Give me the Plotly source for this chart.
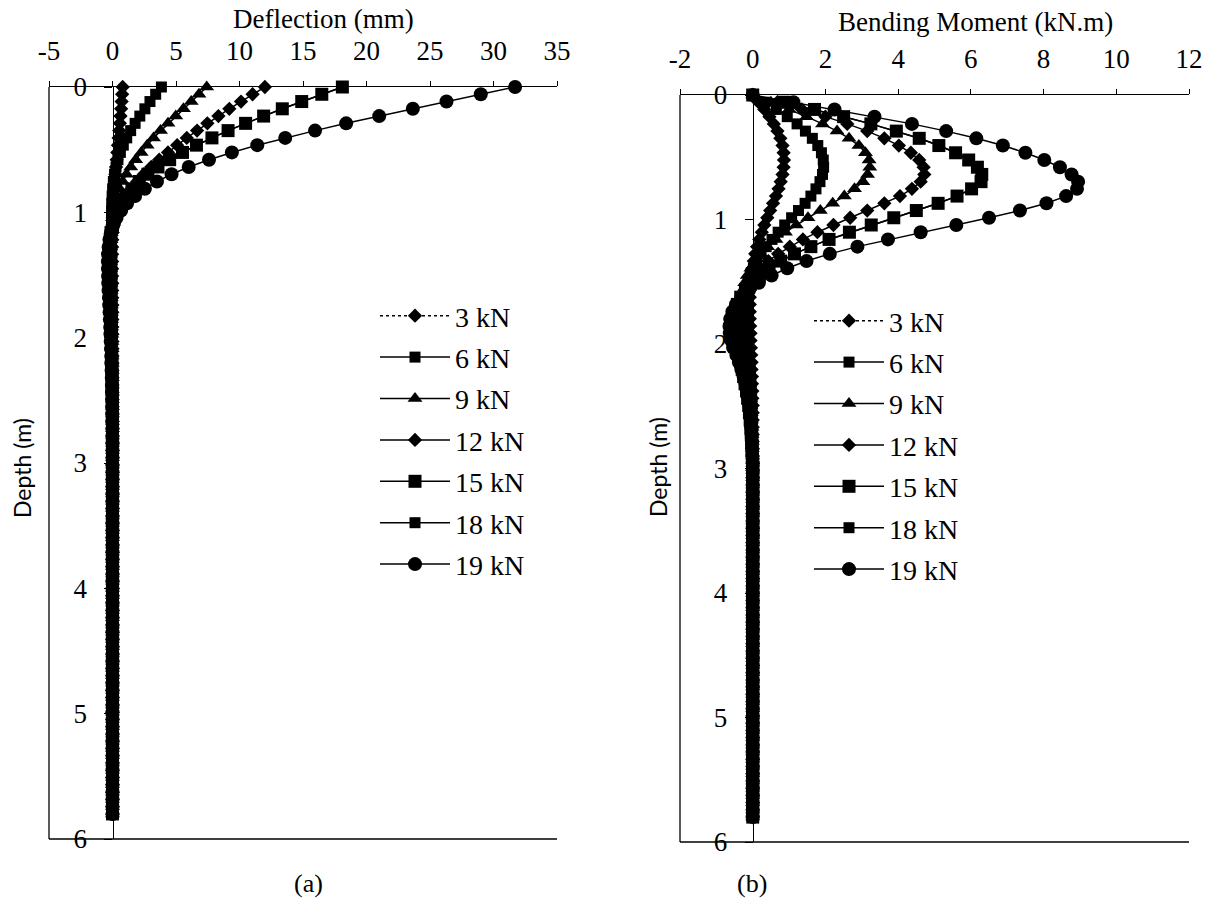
import plotly.graph_objects as go

# ---------------- data ----------------
LOADS = ["3 kN", "6 kN", "9 kN", "12 kN", "15 kN", "18 kN", "19 kN"]

# depth of the pile nodes (m)
DEPTH = [
    0.000, 0.058, 0.116, 0.174, 0.232, 0.290, 0.348, 0.406, 0.464, 0.522,
    0.580, 0.638, 0.696, 0.754, 0.812, 0.870, 0.928, 0.986, 1.044, 1.102,
    1.160, 1.218, 1.276, 1.334, 1.392, 1.450, 1.508, 1.566, 1.624, 1.682,
    1.740, 1.798, 1.856, 1.914, 1.972, 2.030, 2.088, 2.146, 2.204, 2.262,
    2.320, 2.378, 2.436, 2.494, 2.552, 2.610, 2.668, 2.726, 2.784, 2.842,
    2.900, 2.958, 3.016, 3.074, 3.132, 3.190, 3.248, 3.306, 3.364, 3.422,
    3.480, 3.538, 3.596, 3.654, 3.712, 3.770, 3.828, 3.886, 3.944, 4.002,
    4.060, 4.118, 4.176, 4.234, 4.292, 4.350, 4.408, 4.466, 4.524, 4.582,
    4.640, 4.698, 4.756, 4.814, 4.872, 4.930, 4.988, 5.046, 5.104, 5.162,
    5.220, 5.278, 5.336, 5.394, 5.452, 5.510, 5.568, 5.626, 5.684, 5.742,
    5.800,
]

# below ~2.9 m every series reads as zero (nodes 51..100)
DEEP_ZEROS = [
    0, 0, 0, 0, 0, 0, 0, 0, 0, 0,
    0, 0, 0, 0, 0, 0, 0, 0, 0, 0,
    0, 0, 0, 0, 0, 0, 0, 0, 0, 0,
    0, 0, 0, 0, 0, 0, 0, 0, 0, 0,
    0, 0, 0, 0, 0, 0, 0, 0, 0, 0,
]

# deflection (mm), nodes 0..50
DEF_3 = [
    0.80, 0.76, 0.72, 0.68, 0.63, 0.58, 0.53, 0.48, 0.43, 0.38,
    0.33, 0.28, 0.23, 0.18, 0.14, 0.10, 0.07, 0.04, 0.02, 0.00,
    -0.01, -0.02, -0.03, -0.03, -0.03, -0.03, -0.03, -0.02, -0.02, -0.02,
    -0.01, -0.01, -0.01, -0.01, 0, 0, 0, 0, 0, 0,
    0, 0, 0, 0, 0, 0, 0, 0, 0, 0,
    0,
]
DEF_6 = [
    3.85, 3.40, 2.95, 2.55, 2.15, 1.78, 1.43, 1.12, 0.85, 0.62,
    0.43, 0.28, 0.16, 0.07, 0.01, -0.03, -0.06, -0.07, -0.08, -0.08,
    -0.08, -0.08, -0.07, -0.07, -0.06, -0.06, -0.05, -0.05, -0.04, -0.04,
    -0.03, -0.03, -0.02, -0.02, -0.01, -0.01, -0.01, 0, 0, 0,
    0, 0, 0, 0, 0, 0, 0, 0, 0, 0,
    0,
]
DEF_9 = [
    7.42, 6.81, 6.20, 5.59, 4.98, 4.37, 3.78, 3.23, 2.73, 2.26,
    1.83, 1.44, 1.10, 0.80, 0.56, 0.36, 0.20, 0.08, 0.00, -0.06,
    -0.10, -0.12, -0.13, -0.14, -0.14, -0.14, -0.13, -0.12, -0.11, -0.10,
    -0.09, -0.08, -0.07, -0.06, -0.05, -0.04, -0.03, -0.03, -0.02, -0.02,
    -0.01, -0.01, 0, 0, 0, 0, 0, 0, 0, 0,
    0,
]
DEF_12 = [
    12.00, 11.03, 10.12, 9.20, 8.34, 7.47, 6.66, 5.85, 5.09, 4.37,
    3.68, 3.05, 2.47, 1.95, 1.50, 1.10, 0.76, 0.49, 0.27, 0.11,
    0.00, -0.08, -0.13, -0.16, -0.18, -0.19, -0.19, -0.18, -0.17, -0.16,
    -0.15, -0.13, -0.12, -0.10, -0.09, -0.08, -0.07, -0.06, -0.05, -0.04,
    -0.03, -0.03, -0.02, -0.02, -0.01, -0.01, 0, 0, 0, 0,
    0,
]
DEF_15 = [
    18.10, 16.48, 14.90, 13.37, 11.90, 10.48, 9.10, 7.83, 6.61, 5.51,
    4.50, 3.58, 2.79, 2.11, 1.53, 1.05, 0.67, 0.38, 0.15, 0.00,
    -0.11, -0.18, -0.22, -0.24, -0.25, -0.25, -0.24, -0.23, -0.21, -0.19,
    -0.17, -0.15, -0.13, -0.11, -0.10, -0.08, -0.07, -0.06, -0.05, -0.04,
    -0.03, -0.03, -0.02, -0.02, -0.01, -0.01, 0, 0, 0, 0,
    0,
]
DEF_18 = [
    18.10, 16.48, 14.90, 13.37, 11.90, 10.48, 9.10, 7.83, 6.61, 5.51,
    4.50, 3.58, 2.79, 2.11, 1.53, 1.05, 0.67, 0.38, 0.15, 0.00,
    -0.11, -0.18, -0.22, -0.24, -0.25, -0.25, -0.24, -0.23, -0.21, -0.19,
    -0.17, -0.15, -0.13, -0.11, -0.10, -0.08, -0.07, -0.06, -0.05, -0.04,
    -0.03, -0.03, -0.02, -0.02, -0.01, -0.01, 0, 0, 0, 0,
    0,
]
DEF_19 = [
    31.70, 29.00, 26.30, 23.65, 21.00, 18.40, 15.95, 13.60, 11.40, 9.40,
    7.60, 6.00, 4.65, 3.50, 2.55, 1.78, 1.15, 0.68, 0.32, 0.06,
    -0.12, -0.24, -0.31, -0.35, -0.36, -0.36, -0.35, -0.33, -0.31, -0.28,
    -0.26, -0.23, -0.21, -0.18, -0.16, -0.14, -0.12, -0.10, -0.09, -0.07,
    -0.06, -0.05, -0.04, -0.03, -0.03, -0.02, -0.02, -0.01, -0.01, 0,
    0,
]

# bending moment (kN.m), nodes 0..50
MOM_3 = [
    0.00, 0.16, 0.32, 0.46, 0.58, 0.68, 0.76, 0.82, 0.85, 0.86,
    0.85, 0.82, 0.77, 0.71, 0.64, 0.56, 0.48, 0.40, 0.32, 0.25,
    0.18, 0.12, 0.07, 0.03, -0.01, -0.04, -0.06, -0.07, -0.08, -0.08,
    -0.08, -0.08, -0.07, -0.06, -0.06, -0.05, -0.04, -0.03, -0.03, -0.02,
    -0.02, -0.01, -0.01, 0, 0, 0, 0, 0, 0, 0,
    0,
]
MOM_6 = [
    0.00, 0.33, 0.65, 0.95, 1.22, 1.45, 1.64, 1.79, 1.89, 1.94,
    1.95, 1.92, 1.85, 1.74, 1.60, 1.44, 1.26, 1.07, 0.88, 0.70,
    0.53, 0.37, 0.23, 0.11, 0.02, -0.06, -0.12, -0.16, -0.18, -0.19,
    -0.19, -0.18, -0.17, -0.15, -0.14, -0.12, -0.10, -0.09, -0.07, -0.06,
    -0.05, -0.04, -0.03, -0.02, -0.02, -0.01, -0.01, 0, 0, 0,
    0,
]
MOM_9 = [
    0.00, 0.50, 1.00, 1.48, 1.92, 2.32, 2.65, 2.92, 3.10, 3.20,
    3.22, 3.16, 3.03, 2.80, 2.52, 2.20, 1.86, 1.52, 1.20, 0.90,
    0.64, 0.41, 0.22, 0.07, -0.05, -0.15, -0.22, -0.27, -0.30, -0.31,
    -0.31, -0.30, -0.29, -0.27, -0.25, -0.22, -0.19, -0.16, -0.14, -0.12,
    -0.10, -0.08, -0.06, -0.05, -0.04, -0.03, -0.02, -0.02, -0.01, -0.01,
    0,
]
MOM_12 = [
    0.00, 0.68, 1.35, 2.00, 2.60, 3.15, 3.62, 4.02, 4.35, 4.58,
    4.70, 4.72, 4.62, 4.38, 4.05, 3.62, 3.15, 2.68, 2.22, 1.78,
    1.38, 1.02, 0.70, 0.43, 0.21, 0.03, -0.11, -0.22, -0.30, -0.36,
    -0.39, -0.40, -0.39, -0.37, -0.34, -0.31, -0.27, -0.24, -0.20, -0.17,
    -0.14, -0.12, -0.10, -0.08, -0.06, -0.05, -0.04, -0.03, -0.02, -0.02,
    -0.01,
]
MOM_15 = [
    0.00, 0.85, 1.70, 2.50, 3.25, 3.95, 4.58, 5.12, 5.58, 5.94,
    6.18, 6.30, 6.28, 6.02, 5.62, 5.10, 4.50, 3.88, 3.26, 2.66,
    2.10, 1.60, 1.15, 0.77, 0.45, 0.18, -0.04, -0.20, -0.33, -0.42,
    -0.48, -0.51, -0.51, -0.49, -0.46, -0.42, -0.38, -0.33, -0.29, -0.25,
    -0.21, -0.17, -0.14, -0.11, -0.09, -0.07, -0.05, -0.04, -0.03, -0.02,
    -0.01,
]
MOM_18 = [
    0.00, 0.85, 1.70, 2.50, 3.25, 3.95, 4.58, 5.12, 5.58, 5.94,
    6.18, 6.30, 6.28, 6.02, 5.62, 5.10, 4.50, 3.88, 3.26, 2.66,
    2.10, 1.60, 1.15, 0.77, 0.45, 0.18, -0.04, -0.20, -0.33, -0.42,
    -0.48, -0.51, -0.51, -0.49, -0.46, -0.42, -0.38, -0.33, -0.29, -0.25,
    -0.21, -0.17, -0.14, -0.11, -0.09, -0.07, -0.05, -0.04, -0.03, -0.02,
    -0.01,
]
MOM_19 = [
    0.00, 1.12, 2.25, 3.35, 4.38, 5.32, 6.15, 6.88, 7.50, 8.02,
    8.45, 8.77, 8.95, 8.92, 8.62, 8.08, 7.35, 6.50, 5.60, 4.62,
    3.72, 2.88, 2.12, 1.48, 0.95, 0.52, 0.17, -0.10, -0.31, -0.46,
    -0.56, -0.62, -0.64, -0.63, -0.59, -0.54, -0.45, -0.38, -0.31, -0.25,
    -0.20, -0.15, -0.12, -0.09, -0.07, -0.05, -0.04, -0.03, -0.02, -0.01,
    -0.01,
]

DEFLECTION = [DEF_3, DEF_6, DEF_9, DEF_12, DEF_15, DEF_18, DEF_19]
MOMENT = [MOM_3, MOM_6, MOM_9, MOM_12, MOM_15, MOM_18, MOM_19]

DEF_TICKS = [-5, 0, 5, 10, 15, 20, 25, 30, 35]
DEF_TICKTEXT = ["-5", "0", "5", "10", "15", "20", "25", "30", "35"]
MOM_TICKS = [-2, 0, 2, 4, 6, 8, 10, 12]
MOM_TICKTEXT = ["-2", "0", "2", "4", "6", "8", "10", "12"]
DEPTH_TICKS = [0, 1, 2, 3, 4, 5, 6]

# ---------------- styles ----------------
SYMBOLS = ["diamond", "square", "triangle-up", "diamond", "square", "square", "circle"]
SIZES = [11, 11, 13, 11, 13, 11, 14]
DASHES = ["dot", "solid", "solid", "solid", "solid", "solid", "solid"]

SERIF = "Liberation Serif, Times New Roman, serif"
SANS = "Lato, Noto Sans, sans-serif"

W, H = 1208, 907

# plot-area boxes in pixels
L_BOX = dict(x0=49, x1=557, y0=87, y1=839)
R_BOX = dict(x0=680, x1=1189, y0=95, y1=842)


def fx(v):
    return v / W


def fy(v):
    return 1 - v / H


def dom_x(b):
    return [fx(b["x0"]), fx(b["x1"])]


def dom_y(b):
    return [fy(b["y1"]), fy(b["y0"])]


def zero_pos(dom, rng):
    return dom[0] + (0 - rng[0]) / (rng[1] - rng[0]) * (dom[1] - dom[0])


fig = go.Figure()

for k, name in enumerate(LOADS):
    fig.add_trace(go.Scatter(
        x=DEFLECTION[k] + DEEP_ZEROS, y=DEPTH, name=name, mode="lines+markers",
        xaxis="x", yaxis="y", legend="legend", legendgroup="a" + name,
        line=dict(color="black", width=1.5, dash=DASHES[k]),
        marker=dict(symbol=SYMBOLS[k], size=SIZES[k], color="black"),
        cliponaxis=False,
    ))
for k, name in enumerate(LOADS):
    fig.add_trace(go.Scatter(
        x=MOMENT[k] + DEEP_ZEROS, y=DEPTH, name=name, mode="lines+markers",
        xaxis="x2", yaxis="y2", legend="legend2", legendgroup="b" + name,
        line=dict(color="black", width=1.5, dash=DASHES[k]),
        marker=dict(symbol=SYMBOLS[k], size=SIZES[k], color="black"),
        cliponaxis=False,
    ))

tickfont = dict(family=SERIF, size=27, color="black")
L_XR, R_XR = [-5, 35], [-2, 12]

xcommon = dict(side="top", showline=True, linecolor="black", linewidth=1.3,
               ticks="outside", ticklen=5, tickwidth=1.3, tickcolor="black",
               showgrid=False, zeroline=False, tickfont=tickfont,
               ticklabelstandoff=10, automargin=False)
ycommon = dict(range=[6, 0], tickvals=DEPTH_TICKS, anchor="free",
               showline=True, linecolor="black", linewidth=1.3,
               ticks="outside", ticklen=8, tickwidth=1.3, tickcolor="black",
               showgrid=False, zeroline=False, tickfont=tickfont,
               ticklabelstandoff=12, automargin=False)

legend_common = dict(xanchor="left", yanchor="top",
                     font=dict(family=SERIF, size=28, color="black"),
                     bgcolor="rgba(0,0,0,0)", itemwidth=70,
                     traceorder="grouped", tracegroupgap=2)

fig.update_layout(
    width=W, height=H,
    margin=dict(l=0, r=0, t=0, b=0, pad=0, autoexpand=False),
    paper_bgcolor="white", plot_bgcolor="white",
    xaxis=dict(domain=dom_x(L_BOX), range=L_XR, tickvals=DEF_TICKS,
               ticktext=DEF_TICKTEXT, anchor="y", **xcommon),
    yaxis=dict(domain=dom_y(L_BOX), position=zero_pos(dom_x(L_BOX), L_XR), **ycommon),
    xaxis2=dict(domain=dom_x(R_BOX), range=R_XR, tickvals=MOM_TICKS,
                ticktext=MOM_TICKTEXT, anchor="y2", **xcommon),
    yaxis2=dict(domain=dom_y(R_BOX), position=zero_pos(dom_x(R_BOX), R_XR), **ycommon),
    legend=dict(x=fx(375), y=fy(291), **legend_common),
    legend2=dict(x=fx(809), y=fy(296), **legend_common),
)

# frame lines (left and bottom edges of each plot area)
for xa, ya in (("x", "y"), ("x2", "y2")):
    for (x0, y0, x1, y1) in ((0, 0, 0, 1), (0, 0, 1, 0)):
        fig.add_shape(type="line", xref=xa + " domain", yref=ya + " domain",
                      x0=x0, y0=y0, x1=x1, y1=y1,
                      line=dict(color="black", width=1.3))

ann = [
    dict(text="Deflection (mm)", x=fx(323), y=fy(19), font=dict(family=SERIF, size=27)),
    dict(text="Bending Moment (kN.m)", x=fx(975), y=fy(22), font=dict(family=SERIF, size=27)),
    dict(text="(a)", x=fx(308), y=fy(883), font=dict(family=SERIF, size=26)),
    dict(text="(b)", x=fx(752), y=fy(883), font=dict(family=SERIF, size=26)),
    dict(text="Depth (m)", x=fx(22), y=fy(468), textangle=-90, font=dict(family=SANS, size=23)),
    dict(text="Depth (m)", x=fx(658), y=fy(467), textangle=-90, font=dict(family=SANS, size=23)),
]
for a in ann:
    a["font"]["color"] = "black"
    fig.add_annotation(xref="paper", yref="paper", showarrow=False,
                       xanchor="center", yanchor="middle", **a)

# remove the browser's default page margin so the figure fills the window
fig.write_html("out.html", config={"displayModeBar": False},
               post_script="document.body.style.margin='0';document.body.style.overflow='hidden';")
